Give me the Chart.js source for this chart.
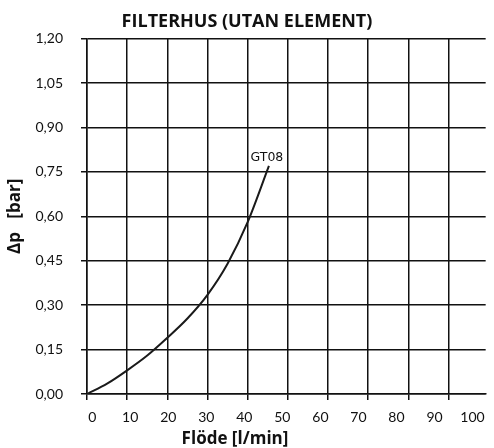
<!DOCTYPE html>
<html>
<head>
<meta charset="utf-8">
<script src="https://cdn.jsdelivr.net/npm/chart.js@4/dist/chart.umd.min.js"></script>
<style>
html,body{margin:0;padding:0;background:#fff;}
#wrap{width:494px;height:448px;}
</style>
</head>
<body>
<div id="wrap"><canvas id="c" width="494" height="448"></canvas></div>
<script>
const chartTitle = 'FILTERHUS (UTAN ELEMENT)';
const xTitle = 'Flöde [l/min]';
const yTitle = 'Δp   [bar]';
const seriesName = 'GT08';
const flowValues = [0, 5, 10, 15, 20, 25, 30, 35, 40, 45.3];
const dpValues   = [0, 0.035, 0.08, 0.13, 0.19, 0.255, 0.335, 0.44, 0.58, 0.77];
const xGridTicks = [0, 10, 20, 30, 40, 50, 60, 70, 80, 90];
const xTickLabels = [0, 10, 20, 30, 40, 50, 60, 70, 80, 90, 100];
const yTickValues = [0, 0.15, 0.30, 0.45, 0.60, 0.75, 0.90, 1.05, 1.20];

const FONT = 'Lato, "Open Sans", sans-serif';
const BFONT = '"Open Sans", Lato, sans-serif';

const annot = {
  id: 'annot',
  afterDatasetsDraw(chart) {
    const ctx = chart.ctx;
    const meta = chart.getDatasetMeta(0);
    const last = meta.data[meta.data.length - 1];
    ctx.save();
    ctx.fillStyle = '#111';
    ctx.font = '12.5px "DejaVu Sans", sans-serif';
    ctx.textAlign = 'center';
    ctx.textBaseline = 'alphabetic';
    ctx.fillText(seriesName, last.x - 2, last.y - 5);
    ctx.font = 'bold 17px ' + BFONT;
    ctx.textBaseline = 'middle';
    ctx.fillText(xTitle, 235, 439);
    ctx.restore();
  }
};

new Chart(document.getElementById('c'), {
  type: 'line',
  data: {
    datasets: [{
      label: seriesName,
      data: flowValues.map((v, i) => ({x: v, y: dpValues[i]})),
      borderColor: '#1a1a1a',
      borderWidth: 2,
      pointRadius: 0,
      cubicInterpolationMode: 'monotone',
      fill: false
    }]
  },
  options: {
    responsive: false,
    animation: false,
    devicePixelRatio: 1,
    layout: {padding: 0},
    plugins: {
      legend: {display: false},
      tooltip: {enabled: false},
      title: {
        display: true,
        text: chartTitle,
        color: '#111',
        font: {family: BFONT, size: 18, weight: 'bold'},
        padding: {top: 11, bottom: 6}
      }
    },
    scales: {
      x: {
        type: 'linear',
        min: 0,
        max: 99.27,
        afterBuildTicks: s => { s.ticks = xGridTicks.map(v => ({value: v})); },
        afterFit: s => { s.height = 6; },
        border: {display: true, color: '#111', width: 1.5},
        grid: {color: '#111', lineWidth: 1.5, tickLength: 6, drawTicks: true},
        ticks: {display: false}
      },
      x2: {
        type: 'linear',
        position: 'bottom',
        min: -1.365,
        max: 103.45,
        afterBuildTicks: s => { s.ticks = xTickLabels.map(v => ({value: v})); },
        afterFit: s => { s.height = 48; },
        border: {display: false},
        grid: {display: false, drawTicks: false},
        ticks: {
          autoSkip: false, maxRotation: 0, padding: 9,
          color: '#111',
          font: {family: FONT, size: 14}
        }
      },
      y: {
        type: 'linear',
        min: 0,
        max: 1.2,
        afterBuildTicks: s => { s.ticks = yTickValues.map(v => ({value: v})); },
        afterFit: s => { s.width = 87; },
        border: {display: true, color: '#111', width: 1.5},
        grid: {color: '#111', lineWidth: 1.5, tickLength: 6},
        ticks: {
          padding: 18,
          color: '#111',
          font: {family: FONT, size: 14},
          callback: v => v.toFixed(2).replace('.', ',')
        },
        title: {
          display: true,
          text: yTitle,
          color: '#111',
          font: {family: BFONT, size: 17, weight: 'bold'},
          padding: {top: 5, bottom: 0}
        }
      }
    }
  },
  plugins: [annot]
});
</script>
</body>
</html>
